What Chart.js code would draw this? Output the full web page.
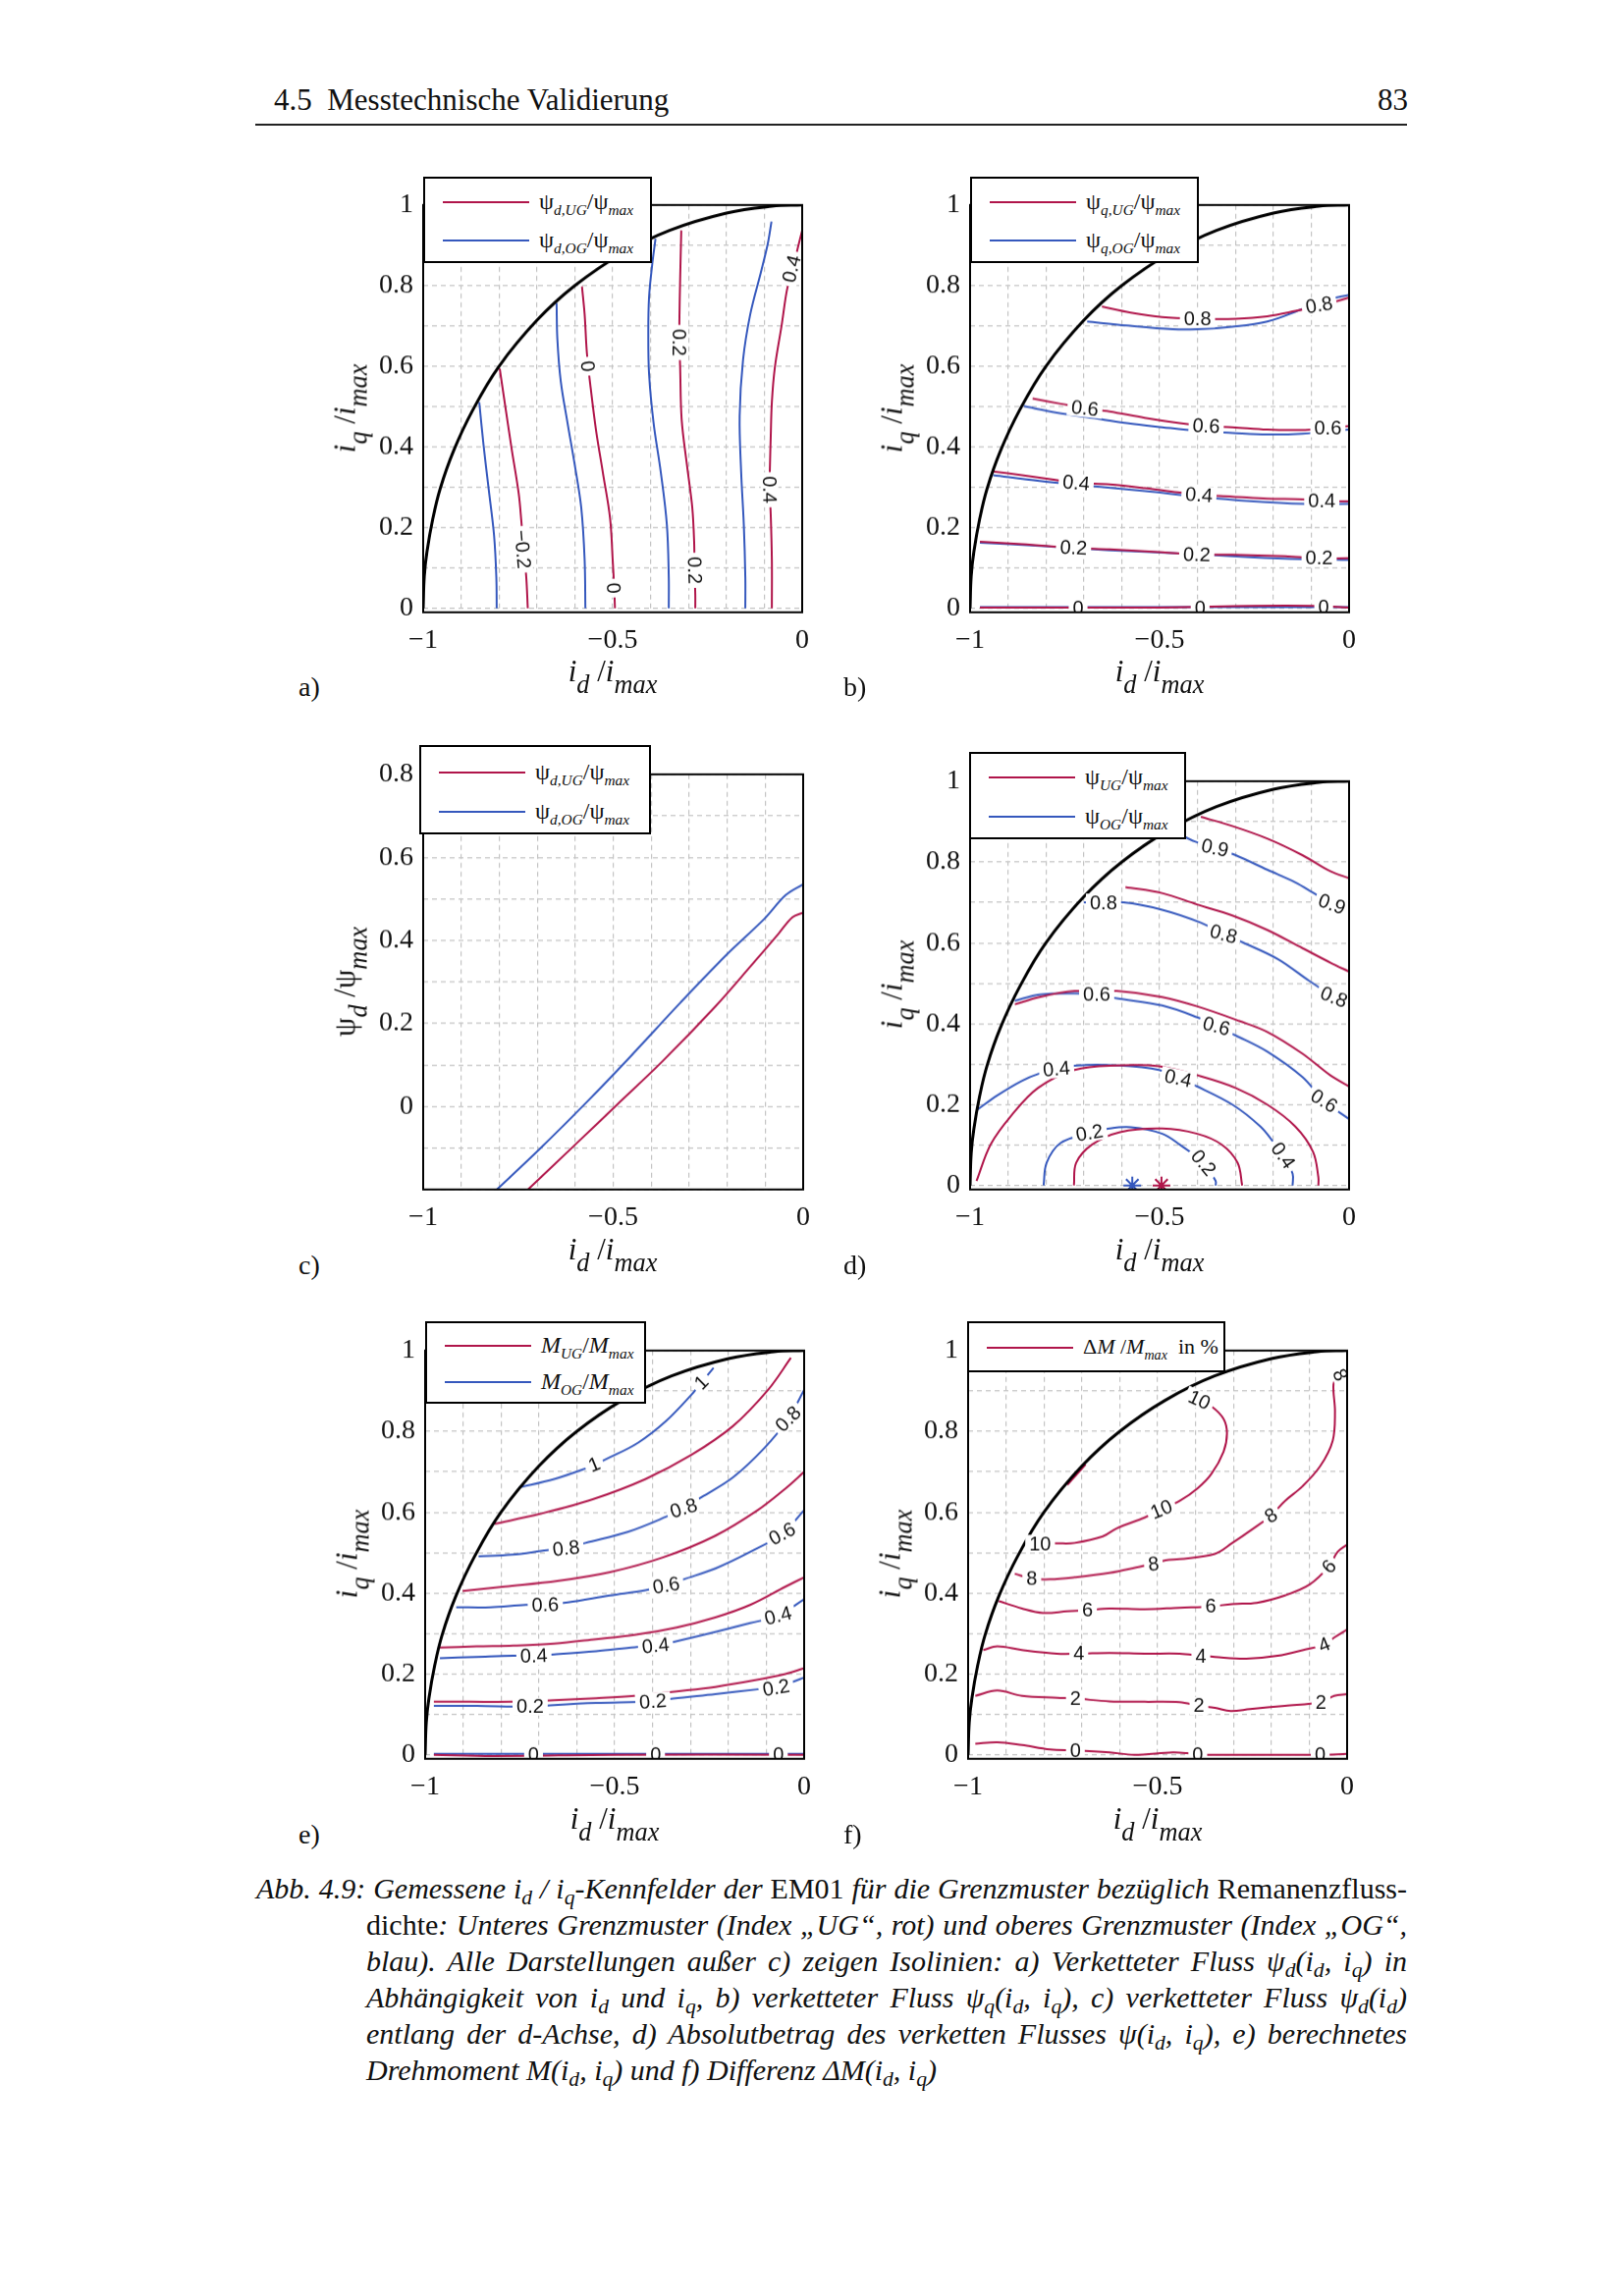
<!DOCTYPE html>
<html>
<head>
<meta charset="utf-8">
<script src="https://cdn.jsdelivr.net/npm/chart.js@4.4.0/dist/chart.umd.min.js"></script>
<style>
body { margin: 0; background: #fff; }
#page { position: relative; width: 1654px; height: 2339px; overflow: hidden; font-family: 'Liberation Serif', 'Times New Roman', serif; color: #111; }
canvas { position: absolute; z-index: 1; }
.lg { position: absolute; background: #fff; border: 2px solid #000; box-sizing: border-box; z-index: 5; }
.lg .ln { position: absolute; left: 18px; width: 88px; height: 0; border-top: 2px solid; }
.lg .tx { position: absolute; left: 116px; font-size: 24px; line-height: 30px; margin-top: -16px; white-space: nowrap; }
.lg sub, .ttl sub { font-style: italic; line-height: 0; }
.lg sub { font-size: 0.64em; vertical-align: -0.4em; }
.ttl { position: absolute; font-size: 31px; line-height: 31px; white-space: nowrap; z-index: 5; }
.ttl sub { font-size: 0.85em; vertical-align: -0.45em; }
.lbl { position: absolute; font-size: 28px; line-height: 28px; z-index: 5; }
.hdr { position: absolute; font-size: 31px; line-height: 31px; white-space: nowrap; }
.cap { position: absolute; font-size: 30px; line-height: 37px; }
.cap.j { text-align: justify; text-align-last: justify; }
.cap sub { font-size: 0.72em; vertical-align: -0.3em; line-height: 0; }
</style>
</head>
<body>
<div id="page">
  <div class="hdr" style="left:279px; top:86px;">4.5&nbsp; Messtechnische Validierung</div>
  <div class="hdr" style="left:1403px; top:86px;">83</div>
  <div style="position:absolute; left:260px; top:126px; width:1173px; height:2px; background:#222;"></div>

  <canvas id="ca"></canvas>
  <canvas id="cb"></canvas>
  <canvas id="cc"></canvas>
  <canvas id="cd"></canvas>
  <canvas id="ce"></canvas>
  <canvas id="cf"></canvas>

  <!-- legends -->
  <div class="lg" style="left:431px; top:180px; width:233px; height:88px;">
    <div class="ln" style="top:23px; border-color:#b0154a;"></div><div class="tx" style="top:24px;">ψ<sub>d,UG</sub>/ψ<sub>max</sub></div>
    <div class="ln" style="top:62px; border-color:#3558bd;"></div><div class="tx" style="top:63px;">ψ<sub>d,OG</sub>/ψ<sub>max</sub></div>
  </div>
  <div class="lg" style="left:988px; top:180px; width:233px; height:88px;">
    <div class="ln" style="top:23px; border-color:#b0154a;"></div><div class="tx" style="top:24px;">ψ<sub>q,UG</sub>/ψ<sub>max</sub></div>
    <div class="ln" style="top:62px; border-color:#3558bd;"></div><div class="tx" style="top:63px;">ψ<sub>q,OG</sub>/ψ<sub>max</sub></div>
  </div>
  <div class="lg" style="left:427px; top:759px; width:236px; height:91px;">
    <div class="ln" style="top:25px; border-color:#b0154a;"></div><div class="tx" style="top:26px;">ψ<sub>d,UG</sub>/ψ<sub>max</sub></div>
    <div class="ln" style="top:65px; border-color:#3558bd;"></div><div class="tx" style="top:66px;">ψ<sub>d,OG</sub>/ψ<sub>max</sub></div>
  </div>
  <div class="lg" style="left:987px; top:766px; width:221px; height:89px;">
    <div class="ln" style="top:23px; border-color:#b0154a;"></div><div class="tx" style="top:24px;">ψ<sub>UG</sub>/ψ<sub>max</sub></div>
    <div class="ln" style="top:63px; border-color:#3558bd;"></div><div class="tx" style="top:64px;">ψ<sub>OG</sub>/ψ<sub>max</sub></div>
  </div>
  <div class="lg" style="left:433px; top:1346px; width:225px; height:84px;">
    <div class="ln" style="top:22px; border-color:#b0154a;"></div><div class="tx" style="top:23px;"><i>M</i><sub>UG</sub>/<i>M</i><sub>max</sub></div>
    <div class="ln" style="top:59px; border-color:#3558bd;"></div><div class="tx" style="top:60px;"><i>M</i><sub>OG</sub>/<i>M</i><sub>max</sub></div>
  </div>
  <div class="lg" style="left:985px; top:1346px; width:263px; height:52px;">
    <div class="ln" style="top:24px; border-color:#b0154a;"></div><div class="tx" style="top:25px; font-size:22px;">Δ<i>M</i> /<i>M</i><sub>max</sub>&nbsp; in %</div>
  </div>

  <!-- axis titles -->
  <div class="ttl" style="left:624px; top:668px; transform:translateX(-50%);"><i>i</i><sub>d</sub> /<i>i</i><sub>max</sub></div>
  <div class="ttl" style="left:1181px; top:668px; transform:translateX(-50%);"><i>i</i><sub>d</sub> /<i>i</i><sub>max</sub></div>
  <div class="ttl" style="left:624px; top:1257px; transform:translateX(-50%);"><i>i</i><sub>d</sub> /<i>i</i><sub>max</sub></div>
  <div class="ttl" style="left:1181px; top:1257px; transform:translateX(-50%);"><i>i</i><sub>d</sub> /<i>i</i><sub>max</sub></div>
  <div class="ttl" style="left:626px; top:1837px; transform:translateX(-50%);"><i>i</i><sub>d</sub> /<i>i</i><sub>max</sub></div>
  <div class="ttl" style="left:1179px; top:1837px; transform:translateX(-50%);"><i>i</i><sub>d</sub> /<i>i</i><sub>max</sub></div>

  <div class="ttl" style="left:351px; top:416px; transform:translate(-50%,-50%) rotate(-90deg);"><i>i</i><sub>q</sub> /<i>i</i><sub>max</sub></div>
  <div class="ttl" style="left:908px; top:416px; transform:translate(-50%,-50%) rotate(-90deg);"><i>i</i><sub>q</sub> /<i>i</i><sub>max</sub></div>
  <div class="ttl" style="left:351px; top:1000px; transform:translate(-50%,-50%) rotate(-90deg);">ψ<sub>d</sub> /ψ<sub>max</sub></div>
  <div class="ttl" style="left:908px; top:1003px; transform:translate(-50%,-50%) rotate(-90deg);"><i>i</i><sub>q</sub> /<i>i</i><sub>max</sub></div>
  <div class="ttl" style="left:353px; top:1583px; transform:translate(-50%,-50%) rotate(-90deg);"><i>i</i><sub>q</sub> /<i>i</i><sub>max</sub></div>
  <div class="ttl" style="left:906px; top:1583px; transform:translate(-50%,-50%) rotate(-90deg);"><i>i</i><sub>q</sub> /<i>i</i><sub>max</sub></div>

  <div class="lbl" style="left:304px; top:686px;">a)</div>
  <div class="lbl" style="left:859px; top:686px;">b)</div>
  <div class="lbl" style="left:304px; top:1275px;">c)</div>
  <div class="lbl" style="left:859px; top:1275px;">d)</div>
  <div class="lbl" style="left:304px; top:1855px;">e)</div>
  <div class="lbl" style="left:859px; top:1855px;">f)</div>

  <!-- caption -->
  <div class="cap j" style="left:261px; top:1905px; width:1172px;"><i>Abb. 4.9: Gemessene i<sub>d</sub> / i<sub>q</sub>-Kennfelder der</i> EM01 <i>für die Grenzmuster bezüglich</i> Remanenzfluss-</div>
  <div class="cap j" style="left:373px; top:1942px; width:1060px;">dichte<i>: Unteres Grenzmuster (Index „UG“, rot) und oberes Grenzmuster (Index „OG“,</i></div>
  <div class="cap j" style="left:373px; top:1979px; width:1060px;"><i>blau). Alle Darstellungen außer c) zeigen Isolinien: a) Verketteter Fluss ψ<sub>d</sub>(i<sub>d</sub>, i<sub>q</sub>) in</i></div>
  <div class="cap j" style="left:373px; top:2016px; width:1060px;"><i>Abhängigkeit von i<sub>d</sub> und i<sub>q</sub>, b) verketteter Fluss ψ<sub>q</sub>(i<sub>d</sub>, i<sub>q</sub>), c) verketteter Fluss ψ<sub>d</sub>(i<sub>d</sub>)</i></div>
  <div class="cap j" style="left:373px; top:2053px; width:1060px;"><i>entlang der d-Achse, d) Absolutbetrag des verketten Flusses ψ(i<sub>d</sub>, i<sub>q</sub>), e) berechnetes</i></div>
  <div class="cap" style="left:373px; top:2090px; white-space:nowrap;"><i>Drehmoment M(i<sub>d</sub>, i<sub>q</sub>) und f) Differenz ΔM(i<sub>d</sub>, i<sub>q</sub>)</i></div>
</div>

<script>
// ---- axis ticks ----
const X_GRID = [-1, -0.9, -0.8, -0.7, -0.6, -0.5, -0.4, -0.3, -0.2, -0.1, 0];
const X_TICKS = [-1, -0.5, 0];
const X_TICK_TEXT = ['\u22121', '\u22120.5', '0'];
const Y_GRID = [0, 0.1, 0.2, 0.3, 0.4, 0.5, 0.6, 0.7, 0.8, 0.9, 1];
const Y_GRID_C = [-0.2, -0.1, 0, 0.1, 0.2, 0.3, 0.4, 0.5, 0.6, 0.7, 0.8];
const Y_TICKS = [0, 0.2, 0.4, 0.6, 0.8, 1];
const Y_TICK_TEXT = ['0', '0.2', '0.4', '0.6', '0.8', '1'];
const Y_TICKS_C = [0, 0.2, 0.4, 0.6, 0.8];
const Y_TICK_TEXT_C = ['0', '0.2', '0.4', '0.6', '0.8'];

// current limit
const LIMIT = [[-1,0],[-0.997,0.08],[-0.99,0.14],[-0.975,0.22],[-0.955,0.297],[-0.92,0.39],[-0.87,0.49],[-0.8,0.6],[-0.7,0.714],[-0.6,0.8],[-0.48,0.877],[-0.35,0.937],[-0.2,0.98],[-0.08,0.997],[0,1]];

// ---- a) psi_d isolines ----
const A_UG_M02 = [[-0.798,0.594],[-0.785,0.511],[-0.767,0.398],[-0.748,0.285],[-0.741,0.216],[-0.735,0.146],[-0.728,0.077],[-0.724,0]];
const A_UG_0 = [[-0.581,0.798],[-0.574,0.729],[-0.568,0.633],[-0.558,0.546],[-0.544,0.442],[-0.526,0.337],[-0.507,0.224],[-0.5,0.12],[-0.496,0.05],[-0.494,0]];
const A_UG_02 = [[-0.319,0.937],[-0.322,0.816],[-0.324,0.711],[-0.324,0.659],[-0.322,0.598],[-0.318,0.468],[-0.304,0.355],[-0.29,0.25],[-0.285,0.163],[-0.284,0.094],[-0.282,0.033],[-0.282,0]];
const A_UG_04 = [[0,0.937],[-0.007,0.911],[-0.025,0.842],[-0.04,0.79],[-0.054,0.703],[-0.072,0.598],[-0.08,0.511],[-0.083,0.424],[-0.085,0.355],[-0.086,0.294],[-0.083,0.233],[-0.08,0.12],[-0.08,0]];
const A_OG_M02 = [[-0.852,0.511],[-0.841,0.407],[-0.827,0.294],[-0.813,0.181],[-0.807,0.077],[-0.806,0]];
const A_OG_0 = [[-0.648,0.757],[-0.646,0.668],[-0.637,0.563],[-0.619,0.459],[-0.6,0.355],[-0.583,0.25],[-0.574,0.12],[-0.572,0]];
const A_OG_02 = [[-0.387,0.916],[-0.396,0.85],[-0.404,0.772],[-0.406,0.685],[-0.404,0.581],[-0.392,0.459],[-0.373,0.337],[-0.357,0.207],[-0.352,0.077],[-0.352,0]];
const A_OG_04 = [[-0.081,0.959],[-0.091,0.903],[-0.109,0.833],[-0.137,0.729],[-0.156,0.616],[-0.165,0.477],[-0.161,0.337],[-0.154,0.207],[-0.15,0.077],[-0.15,0]];
const A_LABELS = [[-0.738,0.146,'\u22120.2',85],[-0.566,0.6,'0',85],[-0.498,0.05,'0',87],[-0.324,0.659,'0.2',90],[-0.284,0.094,'0.2',88],[-0.028,0.842,'0.4',-76],[-0.086,0.294,'0.4',89]];

// ---- b) psi_q isolines ----
const B_UG_08 = [[-0.652,0.748],[-0.576,0.733],[-0.493,0.722],[-0.4,0.718],[-0.299,0.718],[-0.216,0.724],[-0.142,0.737],[-0.079,0.75],[0,0.77]];
const B_OG_08 = [[-0.691,0.711],[-0.586,0.701],[-0.465,0.692],[-0.4,0.692],[-0.308,0.698],[-0.216,0.711],[-0.123,0.742],[-0.058,0.765],[0,0.777]];
const B_UG_06 = [[-0.835,0.52],[-0.761,0.507],[-0.697,0.496],[-0.632,0.488],[-0.539,0.472],[-0.447,0.459],[-0.377,0.452],[-0.308,0.449],[-0.216,0.443],[-0.132,0.442],[-0.056,0.446],[0,0.452]];
const B_OG_06 = [[-0.858,0.501],[-0.771,0.485],[-0.678,0.472],[-0.586,0.459],[-0.493,0.449],[-0.4,0.44],[-0.308,0.435],[-0.216,0.431],[-0.123,0.433],[0,0.443]];
const B_UG_04 = [[-0.939,0.339],[-0.863,0.33],[-0.789,0.32],[-0.72,0.311],[-0.632,0.307],[-0.539,0.298],[-0.447,0.287],[-0.396,0.281],[-0.308,0.277],[-0.216,0.272],[-0.123,0.27],[-0.072,0.266],[0,0.265]];
const B_OG_04 = [[-0.939,0.33],[-0.817,0.316],[-0.678,0.303],[-0.539,0.291],[-0.4,0.277],[-0.262,0.266],[-0.123,0.259],[0,0.259]];
const B_UG_02 = [[-0.974,0.165],[-0.863,0.159],[-0.727,0.15],[-0.632,0.146],[-0.493,0.139],[-0.402,0.133],[-0.308,0.133],[-0.169,0.129],[-0.079,0.124],[0,0.124]];
const B_OG_02 = [[-0.974,0.163],[-0.817,0.155],[-0.632,0.144],[-0.447,0.136],[-0.262,0.127],[-0.123,0.122],[0,0.12]];
const B_UG_0 = [[-0.974,0.002],[-0.5,0.002],[-0.25,0.006],[-0.1,0.006],[0,0.002]];
const B_OG_0 = [[-0.974,0.003],[-0.5,0.003],[0,0.003]];
const B_LABELS = [[-0.4,0.718,'0.8',0],[-0.079,0.752,'0.8',-10],[-0.697,0.496,'0.6',6],[-0.377,0.452,'0.6',3],[-0.056,0.446,'0.6',0],[-0.72,0.311,'0.4',5],[-0.396,0.281,'0.4',4],[-0.072,0.266,'0.4',0],[-0.727,0.15,'0.2',3],[-0.402,0.133,'0.2',2],[-0.079,0.124,'0.2',0],[-0.715,0,'0',0],[-0.393,0,'0',0],[-0.067,0.003,'0',0]];

// ---- c) psi_d along d-axis ----
const C_UG = [[-0.724,-0.2],[-0.601,-0.093],[-0.49,0.004],[-0.37,0.109],[-0.231,0.241],[-0.139,0.337],[-0.065,0.416],[-0.028,0.456],[0,0.467]];
const C_OG = [[-0.806,-0.2],[-0.693,-0.102],[-0.568,0.012],[-0.462,0.113],[-0.323,0.25],[-0.203,0.364],[-0.102,0.452],[-0.046,0.509],[0,0.535]];

// ---- d) |psi| isolines ----
const D_UG_09 = [[-0.391,0.912],[-0.308,0.889],[-0.216,0.858],[-0.123,0.817],[-0.049,0.777],[0,0.76]];
const D_OG_09 = [[-0.433,0.862],[-0.405,0.85],[-0.354,0.835],[-0.299,0.817],[-0.216,0.781],[-0.142,0.75],[-0.095,0.724],[-0.045,0.696],[-0.02,0.688]];
const D_UG_08 = [[-0.59,0.738],[-0.493,0.723],[-0.401,0.695],[-0.308,0.668],[-0.216,0.632],[-0.123,0.587],[-0.049,0.551],[0,0.529]];
const D_OG_08 = [[-0.7,0.7],[-0.595,0.7],[-0.493,0.682],[-0.391,0.65],[-0.331,0.622],[-0.28,0.601],[-0.188,0.56],[-0.105,0.506],[-0.04,0.466],[0,0.445]];
const D_UG_06 = [[-0.882,0.448],[-0.817,0.466],[-0.724,0.481],[-0.666,0.478],[-0.613,0.481],[-0.493,0.466],[-0.401,0.443],[-0.29,0.407],[-0.216,0.38],[-0.123,0.326],[-0.049,0.272],[0,0.245]];
const D_OG_06 = [[-0.882,0.457],[-0.817,0.472],[-0.724,0.475],[-0.666,0.472],[-0.613,0.463],[-0.493,0.445],[-0.401,0.416],[-0.35,0.394],[-0.299,0.371],[-0.216,0.331],[-0.123,0.268],[-0.066,0.209],[0,0.164]];
const D_UG_04 = [[-0.983,0.011],[-0.946,0.101],[-0.891,0.173],[-0.821,0.241],[-0.724,0.286],[-0.613,0.297],[-0.502,0.295],[-0.391,0.27],[-0.299,0.241],[-0.216,0.2],[-0.142,0.146],[-0.095,0.083],[-0.081,0.02],[-0.081,0]];
const D_OG_04 = [[-0.983,0.186],[-0.928,0.223],[-0.863,0.259],[-0.817,0.277],[-0.772,0.288],[-0.715,0.297],[-0.613,0.297],[-0.502,0.286],[-0.451,0.265],[-0.401,0.245],[-0.308,0.2],[-0.234,0.146],[-0.202,0.11],[-0.174,0.074],[-0.149,0.029],[-0.149,0]];
const D_UG_02 = [[-0.726,0],[-0.72,0.056],[-0.678,0.101],[-0.604,0.132],[-0.493,0.141],[-0.401,0.128],[-0.336,0.101],[-0.294,0.056],[-0.282,0]];
const D_OG_02 = [[-0.806,0],[-0.798,0.056],[-0.761,0.105],[-0.685,0.13],[-0.632,0.141],[-0.576,0.144],[-0.493,0.128],[-0.447,0.101],[-0.384,0.056],[-0.352,0.011],[-0.352,0]];
const D_MIN_UG = [[-0.495,0]];
const D_MIN_OG = [[-0.572,0]];
const D_LABELS = [[-0.354,0.835,'0.9',12],[-0.045,0.696,'0.9',20],[-0.648,0.7,'0.8',0],[-0.331,0.622,'0.8',15],[-0.04,0.466,'0.8',22],[-0.666,0.472,'0.6',0],[-0.35,0.394,'0.6',15],[-0.066,0.209,'0.6',32],[-0.772,0.288,'0.4',-5],[-0.451,0.265,'0.4',12],[-0.174,0.074,'0.4',55],[-0.685,0.13,'0.2',-10],[-0.384,0.056,'0.2',50]];

// ---- e) torque isolines ----
const E_OG_1 = [[-0.753,0.661],[-0.66,0.682],[-0.586,0.705],[-0.554,0.718],[-0.521,0.732],[-0.438,0.772],[-0.364,0.826],[-0.299,0.889],[-0.271,0.921],[-0.239,0.957]];
const E_UG_08 = [[-0.818,0.571],[-0.697,0.596],[-0.558,0.632],[-0.419,0.682],[-0.299,0.741],[-0.188,0.813],[-0.095,0.903],[-0.035,0.982]];
const E_OG_08 = [[-0.859,0.491],[-0.771,0.495],[-0.679,0.506],[-0.628,0.511],[-0.577,0.524],[-0.466,0.551],[-0.364,0.589],[-0.318,0.61],[-0.271,0.637],[-0.188,0.686],[-0.105,0.759],[-0.042,0.831],[0,0.903]];
const E_UG_06 = [[-0.901,0.405],[-0.79,0.416],[-0.651,0.43],[-0.512,0.452],[-0.373,0.488],[-0.234,0.542],[-0.123,0.605],[-0.049,0.659],[0,0.7]];
const E_OG_06 = [[-0.918,0.365],[-0.827,0.365],[-0.734,0.371],[-0.683,0.371],[-0.623,0.377],[-0.512,0.394],[-0.419,0.407],[-0.364,0.419],[-0.318,0.434],[-0.234,0.461],[-0.142,0.502],[-0.058,0.547],[0,0.605]];
const E_UG_04 = [[-0.961,0.265],[-0.864,0.268],[-0.767,0.27],[-0.66,0.275],[-0.549,0.286],[-0.447,0.297],[-0.336,0.315],[-0.234,0.34],[-0.142,0.371],[-0.049,0.416],[0,0.439]];
const E_OG_04 = [[-0.961,0.239],[-0.864,0.242],[-0.767,0.245],[-0.713,0.245],[-0.66,0.248],[-0.549,0.256],[-0.447,0.266],[-0.392,0.27],[-0.336,0.281],[-0.234,0.304],[-0.142,0.326],[-0.069,0.344],[0,0.385]];
const E_UG_02 = [[-0.977,0.131],[-0.882,0.131],[-0.771,0.131],[-0.66,0.135],[-0.549,0.14],[-0.447,0.146],[-0.336,0.157],[-0.234,0.168],[-0.132,0.184],[-0.049,0.2],[0,0.214]];
const E_OG_02 = [[-0.977,0.121],[-0.864,0.121],[-0.723,0.119],[-0.66,0.123],[-0.549,0.128],[-0.399,0.132],[-0.345,0.139],[-0.234,0.15],[-0.123,0.162],[-0.074,0.166],[-0.031,0.18],[0,0.191]];
const E_UG_0 = [[-0.977,0],[-0.82,-0.003],[-0.5,0],[0,0]];
const E_OG_0 = [[-0.977,0.002],[-0.5,0.002],[0,0.002]];
const E_LABELS = [[-0.554,0.718,'1',-22],[-0.271,0.921,'1',-45],[-0.628,0.511,'0.8',-6],[-0.318,0.61,'0.8',-18],[-0.042,0.831,'0.8',-45],[-0.683,0.371,'0.6',-2],[-0.364,0.419,'0.6',-10],[-0.058,0.547,'0.6',-28],[-0.713,0.245,'0.4',-2],[-0.392,0.27,'0.4',-6],[-0.069,0.344,'0.4',-14],[-0.723,0.119,'0.2',0],[-0.399,0.132,'0.2',-4],[-0.074,0.166,'0.2',-10],[-0.714,0,'0',0],[-0.392,0,'0',0],[-0.068,0,'0',0]];

// ---- f) torque difference in % ----
const F_10 = [[-0.395,0.88],[-0.358,0.862],[-0.326,0.831],[-0.317,0.795],[-0.326,0.75],[-0.358,0.695],[-0.395,0.659],[-0.442,0.628],[-0.49,0.607],[-0.534,0.587],[-0.608,0.56],[-0.645,0.54],[-0.719,0.524],[-0.761,0.523],[-0.807,0.524]];
const F_10_EDGE = [[-0.738,0.668],[-0.712,0.695],[-0.69,0.718]];
const F_8 = [[-0.025,0.94],[-0.036,0.916],[-0.032,0.849],[-0.038,0.777],[-0.071,0.714],[-0.118,0.664],[-0.164,0.628],[-0.201,0.592],[-0.247,0.56],[-0.303,0.524],[-0.349,0.497],[-0.442,0.484],[-0.479,0.481],[-0.511,0.472],[-0.544,0.466],[-0.627,0.45],[-0.719,0.439],[-0.784,0.434],[-0.832,0.436],[-0.877,0.448]];
const F_6 = [[-0.919,0.38],[-0.858,0.362],[-0.803,0.351],[-0.738,0.355],[-0.685,0.358],[-0.627,0.362],[-0.534,0.36],[-0.442,0.364],[-0.36,0.367],[-0.303,0.373],[-0.238,0.376],[-0.164,0.394],[-0.099,0.421],[-0.048,0.466],[-0.025,0.502],[0,0.52]];
const F_4 = [[-0.96,0.259],[-0.923,0.268],[-0.858,0.259],[-0.766,0.25],[-0.708,0.25],[-0.627,0.252],[-0.534,0.25],[-0.442,0.25],[-0.386,0.245],[-0.349,0.242],[-0.266,0.238],[-0.183,0.245],[-0.108,0.261],[-0.06,0.272],[-0.034,0.29],[0,0.31]];
const F_2 = [[-0.981,0.146],[-0.923,0.159],[-0.858,0.146],[-0.766,0.141],[-0.717,0.139],[-0.627,0.132],[-0.534,0.131],[-0.442,0.13],[-0.391,0.121],[-0.349,0.116],[-0.307,0.108],[-0.256,0.113],[-0.164,0.121],[-0.069,0.13],[-0.034,0.146],[0,0.15]];
const F_0 = [[-0.981,0.027],[-0.923,0.031],[-0.858,0.024],[-0.784,0.013],[-0.717,0.011],[-0.627,0.006],[-0.562,0],[-0.46,0.006],[-0.423,0.004],[-0.394,0],[-0.349,0],[-0.256,0],[-0.118,0],[-0.071,0],[0,0.002]];
const F_LABELS = [[-0.39,0.878,'10',25],[-0.49,0.607,'10',-22],[-0.81,0.522,'10',0],[-0.018,0.94,'8',65],[-0.201,0.592,'8',-32],[-0.511,0.472,'8',-6],[-0.832,0.436,'8',0],[-0.685,0.358,'6',0],[-0.36,0.367,'6',0],[-0.048,0.466,'6',-50],[-0.708,0.25,'4',0],[-0.386,0.245,'4',0],[-0.06,0.272,'4',-22],[-0.717,0.139,'2',0],[-0.391,0.121,'2',0],[-0.069,0.13,'2',0],[-0.717,0.011,'0',0],[-0.394,0,'0',0],[-0.071,0,'0',0]];

const RED = '#b0154a';
const BLUE = '#3558bd';

function pts(arr) { return arr.map(p => ({ x: p[0], y: p[1] })); }

function iso(arr, color) {
    return { data: pts(arr), borderColor: color, borderWidth: 2, showLine: true, pointRadius: 0, tension: 0.35, fill: false, order: 1 };
}

function limitCurve() {
    return { data: pts(LIMIT), borderColor: '#000', borderWidth: 3, showLine: true, pointRadius: 0, tension: 0.4, fill: false, order: 0 };
}

function tickText(v, vals, texts) {
    const i = vals.findIndex(t => Math.abs(t - v) < 1e-6);
    return i >= 0 ? texts[i] : '';
}

// black frame around the plot area
const framePlugin = {
    id: 'frame',
    afterDraw(chart) {
        const { ctx, chartArea: a } = chart;
        ctx.save();
        ctx.strokeStyle = '#000';
        ctx.lineWidth = 2;
        ctx.strokeRect(a.left, a.top, a.right - a.left, a.bottom - a.top);
        ctx.restore();
    }
};

// inline contour labels (clabel style)
function isoLabels(items) {
    return {
        id: 'isoLabels',
        afterDatasetsDraw(chart) {
            const { ctx, chartArea: a, scales: { x, y } } = chart;
            ctx.save();
            ctx.beginPath();
            ctx.rect(a.left, a.top, a.right - a.left, a.bottom - a.top);
            ctx.clip();
            ctx.font = '20px "Liberation Sans", Arial, sans-serif';
            ctx.textAlign = 'center';
            ctx.textBaseline = 'middle';
            items.forEach(([vx, vy, t, rot]) => {
                ctx.save();
                ctx.translate(x.getPixelForValue(vx), y.getPixelForValue(vy));
                ctx.rotate(rot * Math.PI / 180);
                const tw = ctx.measureText(t).width;
                ctx.fillStyle = '#fff';
                ctx.fillRect(-tw / 2 - 4, -9, tw + 8, 18);
                ctx.fillStyle = '#111';
                ctx.fillText(t, 0, 1);
                ctx.restore();
            });
            ctx.restore();
        }
    };
}

function makeChart(id, box, cfg) {
    const ML = 80, MR = 24, MT = 24, MB = 50;
    const cv = document.getElementById(id);
    const w = box.r - box.l, h = box.b - box.t;
    cv.width = ML + w + MR;
    cv.height = MT + h + MB;

    const tickFont = { family: 'Liberation Serif', size: 28 };
    const gridOpts = { color: '#c4c4c4', lineWidth: 1.2, drawTicks: false };

    const chart = new Chart(cv, {
        type: 'scatter',
        data: { datasets: cfg.datasets },
        options: {
            responsive: false,
            maintainAspectRatio: false,
            animation: false,
            devicePixelRatio: 1,
            layout: { padding: { top: MT, right: MR, left: 0, bottom: 0 } },
            plugins: { legend: { display: false }, tooltip: { enabled: false } },
            scales: {
                x: {
                    type: 'linear', min: -1, max: 0,
                    afterBuildTicks: s => { s.ticks = X_GRID.map(v => ({ value: v })); },
                    afterFit: s => { s.height = MB; },
                    ticks: { autoSkip: false, maxRotation: 0, padding: 12, font: tickFont, color: '#111',
                             callback: v => tickText(v, X_TICKS, X_TICK_TEXT) },
                    grid: gridOpts,
                    border: { display: false, dash: [5, 4] }
                },
                y: {
                    type: 'linear', min: cfg.ymin, max: cfg.ymax,
                    afterBuildTicks: s => { s.ticks = cfg.yGrid.map(v => ({ value: v })); },
                    afterFit: s => { s.width = ML; },
                    ticks: { autoSkip: false, padding: 10, font: tickFont, color: '#111',
                             callback: v => tickText(v, cfg.yTicks, cfg.yText) },
                    grid: gridOpts,
                    border: { display: false, dash: [5, 4] }
                }
            }
        },
        plugins: [isoLabels(cfg.labels || []), framePlugin]
    });

    // make the plot area exactly the measured box, then place the canvas over it
    for (let k = 0; k < 3; k++) {
        const a = chart.chartArea;
        const dw = w - (a.right - a.left), dh = h - (a.bottom - a.top);
        if (Math.abs(dw) < 0.5 && Math.abs(dh) < 0.5) break;
        chart.resize(chart.width + dw, chart.height + dh);
    }
    cv.style.left = (box.l - chart.chartArea.left) + 'px';
    cv.style.top = (box.t - chart.chartArea.top) + 'px';
}

const qfield = { ymin: -0.01, ymax: 1, yGrid: Y_GRID, yTicks: Y_TICKS, yText: Y_TICK_TEXT };

makeChart('ca', { l: 431, t: 209, r: 817, b: 623 }, Object.assign({}, qfield, {
    datasets: [limitCurve(),
        iso(A_UG_M02, RED), iso(A_UG_0, RED), iso(A_UG_02, RED), iso(A_UG_04, RED),
        iso(A_OG_M02, BLUE), iso(A_OG_0, BLUE), iso(A_OG_02, BLUE), iso(A_OG_04, BLUE)],
    labels: A_LABELS
}));

makeChart('cb', { l: 988, t: 209, r: 1374, b: 623 }, Object.assign({}, qfield, {
    datasets: [limitCurve(),
        iso(B_UG_08, RED), iso(B_UG_06, RED), iso(B_UG_04, RED), iso(B_UG_02, RED), iso(B_UG_0, RED),
        iso(B_OG_08, BLUE), iso(B_OG_06, BLUE), iso(B_OG_04, BLUE), iso(B_OG_02, BLUE), iso(B_OG_0, BLUE)],
    labels: B_LABELS
}));

makeChart('cc', { l: 431, t: 789, r: 818, b: 1211 }, {
    ymin: -0.2, ymax: 0.8, yGrid: Y_GRID_C, yTicks: Y_TICKS_C, yText: Y_TICK_TEXT_C,
    datasets: [iso(C_OG, BLUE), iso(C_UG, RED)],
    labels: []
});

makeChart('cd', { l: 988, t: 796, r: 1374, b: 1211 }, Object.assign({}, qfield, {
    datasets: [limitCurve(),
        { data: pts(D_MIN_OG), pointStyle: 'star', pointRadius: 9, borderColor: BLUE, borderWidth: 2, order: 0 },
        { data: pts(D_MIN_UG), pointStyle: 'star', pointRadius: 9, borderColor: RED, borderWidth: 2, order: 0 },
        iso(D_UG_09, RED), iso(D_UG_08, RED), iso(D_UG_06, RED), iso(D_UG_04, RED), iso(D_UG_02, RED),
        iso(D_OG_09, BLUE), iso(D_OG_08, BLUE), iso(D_OG_06, BLUE), iso(D_OG_04, BLUE), iso(D_OG_02, BLUE)],
    labels: D_LABELS
}));

makeChart('ce', { l: 433, t: 1376, r: 819, b: 1791 }, Object.assign({}, qfield, {
    datasets: [limitCurve(),
        iso(E_UG_08, RED), iso(E_UG_06, RED), iso(E_UG_04, RED), iso(E_UG_02, RED), iso(E_UG_0, RED),
        iso(E_OG_1, BLUE), iso(E_OG_08, BLUE), iso(E_OG_06, BLUE), iso(E_OG_04, BLUE), iso(E_OG_02, BLUE), iso(E_OG_0, BLUE)],
    labels: E_LABELS
}));

makeChart('cf', { l: 986, t: 1376, r: 1372, b: 1791 }, Object.assign({}, qfield, {
    datasets: [limitCurve(),
        iso(F_10, RED), iso(F_10_EDGE, RED), iso(F_8, RED), iso(F_6, RED), iso(F_4, RED), iso(F_2, RED), iso(F_0, RED)],
    labels: F_LABELS
}));
</script>
</body>
</html>
